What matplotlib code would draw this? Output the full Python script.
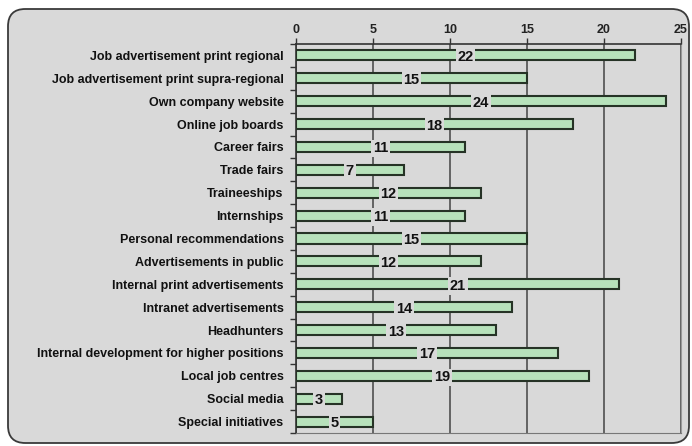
import matplotlib
matplotlib.use("Agg")
import matplotlib.pyplot as plt
from matplotlib.patches import FancyBboxPatch

categories = [
    "Job advertisement print regional",
    "Job advertisement print supra-regional",
    "Own company website",
    "Online job boards",
    "Career fairs",
    "Trade fairs",
    "Traineeships",
    "Internships",
    "Personal recommendations",
    "Advertisements in public",
    "Internal print advertisements",
    "Intranet advertisements",
    "Headhunters",
    "Internal development for higher positions",
    "Local job centres",
    "Social media",
    "Special initiatives",
]
values = [22, 15, 24, 18, 11, 7, 12, 11, 15, 12, 21, 14, 13, 17, 19, 3, 5]
xticks = [0, 5, 10, 15, 20, 25]

BG = "#d9d9d9"
plt.rcParams['font.family'] = ['Liberation Sans', 'DejaVu Sans']

W, H = 692, 446
fig = plt.figure(figsize=(W / 100, H / 100), dpi=100)
fig.patch.set_facecolor("white")

box = FancyBboxPatch((8 / W, 3 / H), (681 / W), (434 / H),
                     boxstyle="round,pad=0,rounding_size=0.025",
                     transform=fig.transFigure, facecolor=BG,
                     edgecolor="#3a3a3a", linewidth=1.3, mutation_aspect=W / H,
                     zorder=-10)
fig.patches.append(box)

ax = fig.add_axes([296 / W, (H - 433) / H, (681 - 296) / W, (433 - 44) / H])
ax.set_zorder(5)
ax.set_facecolor(BG)

n = len(categories)
ys = list(range(n))
ax.barh(ys, values, height=0.44, color="#b7e2bb", edgecolor="#263326",
        linewidth=1.5, zorder=3)
for y, v in zip(ys, values):
    ax.text(v / 2, y, str(v), ha="center", va="center_baseline", fontsize=10.5,
            fontweight="bold", color="#111111", zorder=4,
            bbox=dict(boxstyle="square,pad=0.12", facecolor=BG, edgecolor="none"))

ax.set_xlim(0, 25)
ax.set_ylim(n - 0.5, -0.5)
ax.set_xticks(xticks)
ax.xaxis.tick_top()
ax.tick_params(axis="x", direction="out", length=4, width=1, color="#333333",
               labelsize=9, pad=2, labelcolor="#222222")
for lab in ax.get_xticklabels():
    lab.set_fontweight("bold")
ax.set_yticks(ys)
ax.set_yticklabels(categories, fontsize=9, fontweight="bold", color="#111111")
ax.set_yticks([i + 0.5 for i in range(-1, n)], minor=True)
ax.tick_params(axis="y", which="major", length=0, pad=9)
ax.tick_params(axis="y", which="minor", direction="out", length=4, width=1, color="#333333")

ax.grid(axis="x", color="#444444", linewidth=1.1, zorder=1)
for s in ["left", "top"]:
    ax.spines[s].set_color("#333333")
    ax.spines[s].set_linewidth(1.2)
ax.spines["right"].set_color("#999999")
ax.spines["bottom"].set_color("#777777")
ax.set_axisbelow(True)

fig.savefig("out.png", dpi=100, facecolor="white")
